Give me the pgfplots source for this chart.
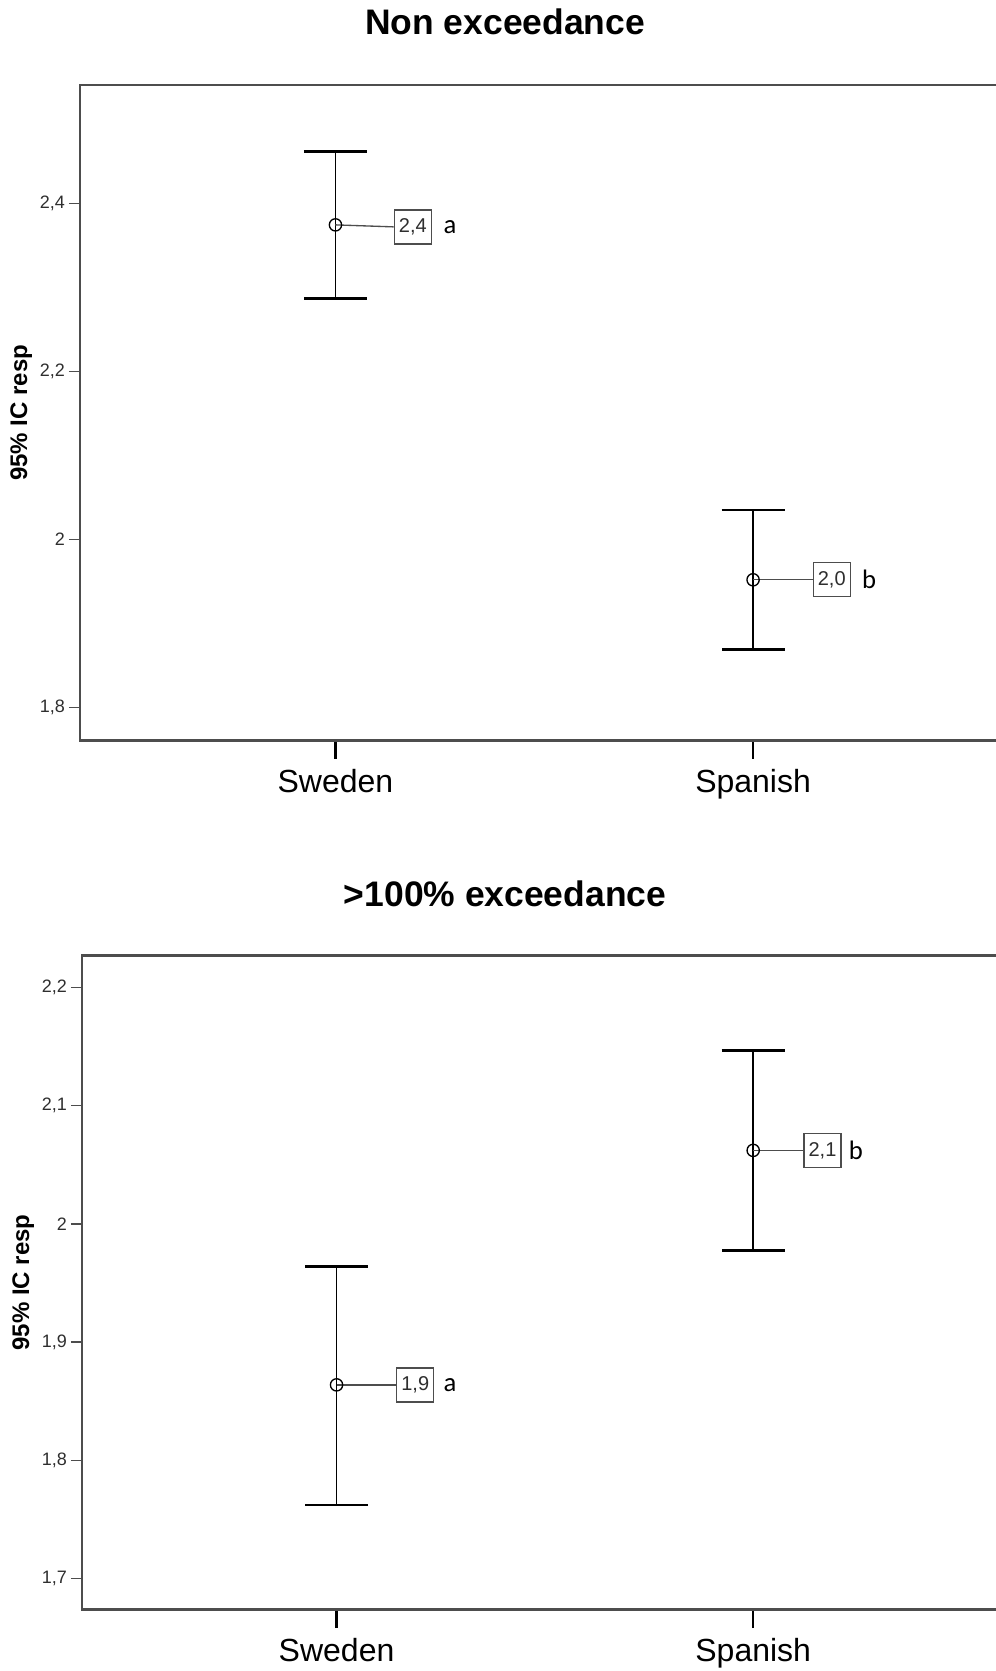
\documentclass[border=0pt]{standalone}
\usepackage{pgfplots}
\pgfplotsset{compat=1.18}
\usepackage{fontspec}
\setmainfont{Liberation Sans}
\newfontfamily\carlito{Carlito}
\definecolor{axgray}{HTML}{4D4D4D}
\definecolor{tkgray}{HTML}{2E2E2E}

\pgfplotsset{
  spss/.style={
    scale only axis,
    anchor=south west,
    clip=false,
    axis line style={axgray, line width=1.8pt},
    tick align=outside,
    tick pos=left,
    xtick={0,1},
    xticklabels={Sweden,Spanish},
    xticklabel style={font=\fontsize{24}{28}\selectfont, black, anchor=north, inner sep=0pt, yshift=-17pt},
    x tick style={black, line width=1.6pt, /pgfplots/major tick length=14pt},
    y tick style={axgray, line width=1.1pt, /pgfplots/major tick length=8.25pt},
    yticklabel style={font=\fontsize{13.5}{16}\selectfont, tkgray, anchor=east, inner sep=0pt, xshift=-6.8pt},
    ylabel={95\% IC resp},
    every axis y label/.style={at={(axis description cs:0,0.5)}, xshift=-44pt, rotate=90, anchor=center, font=\bfseries\fontsize{18}{22}\selectfont},
  },
  ebar/.style={black, only marks, mark=o, mark size=4.6pt, mark options={line width=1pt, black},
    error bars/.cd, y dir=both, y explicit,
    error bar style={line width=1.3pt, black},
    error mark options={black, line width=2pt, mark size=23.6pt, rotate=90}},
}
\tikzset{
  vbox/.style={draw=axgray, line width=1pt, fill=white, minimum width=27.75pt, minimum height=25.5pt, inner sep=0pt, font=\fontsize{15}{18}\selectfont, text=tkgray},
  letr/.style={font=\carlito\fontsize{20}{24}\selectfont, inner sep=0pt, anchor=center},
}

\begin{document}
\begin{tikzpicture}
\useasboundingbox (0,0) rectangle (747pt,1253.25pt);

% ---------- top panel ----------
\begin{axis}[spss,
  at={(59.9pt,698.0pt)}, width=696.6pt, height=491.3pt,
  xmin=-0.612, xmax=1.612, ymin=1.7607, ymax=2.5409,
  ytick={1.8,2.0,2.2,2.4}, yticklabels={{1,8},{2},{2,2},{2,4}},
]
\addplot[ebar] coordinates {
  (0,2.3746) +- (0,0.0875)
  (1,1.9519) +- (0,0.0831)
};
\node[vbox] (t1) at ([xshift=58pt,yshift=-1.5pt]axis cs:0,2.3746) {2,4};
\draw[axgray, line width=1pt] (axis cs:0,2.3746) -- (t1.west);
\node[letr] at ([xshift=86pt,yshift=-1.5pt]axis cs:0,2.3746) {a};
\node[vbox] (t2) at ([xshift=59pt]axis cs:1,1.9519) {2,0};
\draw[axgray, line width=1pt] (axis cs:1,1.9519) -- (t2.west);
\node[letr] at ([xshift=87pt]axis cs:1,1.9519) {b};
\end{axis}

% ---------- bottom panel ----------
\begin{axis}[spss,
  at={(61.5pt,46.1pt)}, width=694.3pt, height=490.5pt,
  xmin=-0.611, xmax=1.611, ymin=1.6739, ymax=2.227,
  ytick={1.7,1.8,1.9,2.0,2.1,2.2}, yticklabels={{1,7},{1,8},{1,9},{2},{2,1},{2,2}},
]
\addplot[ebar] coordinates {
  (0,1.8639) += (0,0.1001) -= (0,0.1017)
  (1,2.0622) += (0,0.0846) -= (0,0.0847)
};
\node[vbox] (b1) at ([xshift=59pt]axis cs:0,1.8639) {1,9};
\draw[axgray, line width=1pt] (axis cs:0,1.8639) -- (b1.west);
\node[letr] at ([xshift=85pt]axis cs:0,1.8639) {a};
\node[vbox] (b2) at ([xshift=52pt]axis cs:1,2.0622) {2,1};
\draw[axgray, line width=1pt] (axis cs:1,2.0622) -- (b2.west);
\node[letr] at ([xshift=77pt]axis cs:1,2.0622) {b};
\end{axis}

% titles
\node[font=\bfseries\fontsize{26.6}{30}\selectfont, anchor=base] at (378.8pt,1227pt) {Non exceedance};
\node[font=\bfseries\fontsize{26.6}{30}\selectfont, anchor=base] at (378.8pt,573.4pt) {>100\% exceedance};
\end{tikzpicture}
\end{document}
